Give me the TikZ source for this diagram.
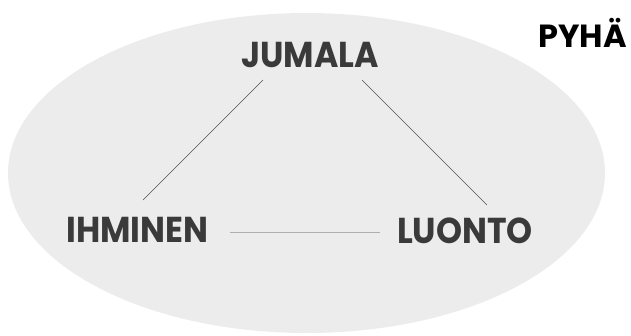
\documentclass[tikz,border=0pt]{standalone}
\usepackage{fontspec}
\setmainfont{Poppins}
\definecolor{ellfill}{RGB}{236,236,236}
\definecolor{txtgray}{RGB}{58,58,58}
\definecolor{diag}{RGB}{80,80,80}
\definecolor{horiz}{RGB}{175,175,175}
\begin{document}
\begin{tikzpicture}[x=1pt,y=-1pt,
  lbl/.style={anchor=base,inner sep=0pt,text=txtgray,xscale=0.92,font=\fontsize{36}{40}\selectfont\bfseries},
  ttl/.style={anchor=base,inner sep=0pt,text=black,font=\fontsize{32}{36}\selectfont\bfseries},
  dline/.style={draw=diag,line width=0.6pt},
  hline/.style={draw=horiz,line width=0.9pt}]
\useasboundingbox (0,0) rectangle (631,335);
\fill[ellfill] (306.5,173) ellipse [x radius=298.5, y radius=160];
\node[lbl] (jumala) at (310,67) {JUMALA};
\node[lbl] (ihminen) at (137.5,242) {IHMINEN};
\node[lbl] (luonto) at (465,243) {LUONTO};
\node[ttl] (pyha) at (582.5,47) {PYHÄ};
\coordinate (jl) at (263,80);
\coordinate (jr) at (362,80);
\coordinate (it) at (143,200);
\coordinate (lt) at (487,205);
\coordinate (ir) at (230,232);
\coordinate (ll) at (380,232);
\draw[dline] (jl) -- (it);
\draw[dline] (jr) -- (lt);
\draw[hline] (ir) -- (ll);
\end{tikzpicture}
\end{document}
